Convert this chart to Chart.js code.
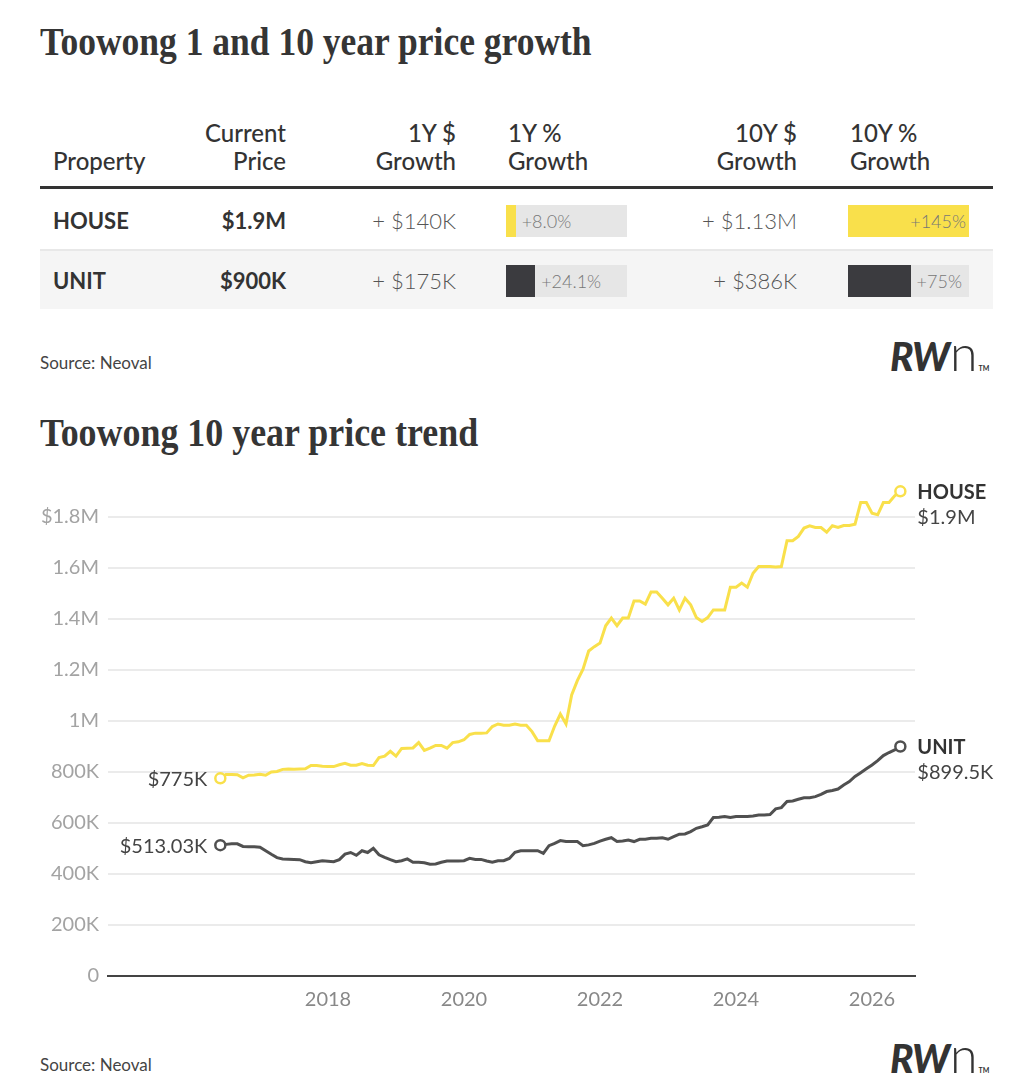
<!DOCTYPE html>
<html>
<head>
<meta charset="utf-8">
<script src="https://cdn.jsdelivr.net/npm/chart.js@4.4.1/dist/chart.umd.min.js"></script>
<style>
  body { margin: 0; background: #fff; width: 1034px; height: 1090px; position: relative; overflow: hidden; font-family: Lato, "Open Sans", sans-serif; color: #333; }
  .title { position: absolute; left: 40px; font-family: "Liberation Serif", "DejaVu Serif", serif; font-weight: bold; font-size: 40px; line-height: 40px; color: #353535; white-space: nowrap; transform-origin: 0 0; }
  .txt { position: absolute; line-height: 40px; height: 40px; white-space: nowrap; }
  .box { position: absolute; }
  #trend { position: absolute; left: 0; top: 455px; }
</style>
</head>
<body>
<div class="title" id="title1" style="top:22px">Toowong 1 and 10 year price growth</div>
<div class="title" id="title2" style="top:413px">Toowong 10 year price trend</div>
<canvas id="trend" width="1034" height="565"></canvas>
<script>
// monthly median values, in $K, Jun 2016 .. Jun 2026
var houseValues = [
  775, 790, 790, 789, 777, 787, 788, 791, 787, 800,
  802, 810, 811, 810, 811, 812, 825, 825, 822, 821,
  821, 828, 834, 826, 826, 833, 826, 825, 856, 862,
  881, 862, 892, 893, 894, 915, 884, 893, 904, 904,
  893, 915, 918, 926, 947,
  952, 952, 953, 978, 988, 983, 983, 988, 983, 983,
  958, 922, 922, 922, 980, 1027, 988, 1102, 1158, 1203,
  1274, 1291, 1305, 1373, 1403, 1373, 1403, 1403, 1470, 1470,
  1458, 1505, 1505, 1481, 1455, 1481, 1435, 1481, 1455, 1405,
  1390, 1405, 1435, 1435, 1435,
  1524, 1524, 1540, 1524, 1579, 1605, 1605, 1605, 1603, 1605,
  1706, 1706, 1723, 1756, 1765, 1758, 1758, 1740, 1765, 1758,
  1766, 1766, 1771, 1856, 1856, 1814, 1808, 1856, 1856, 1882,
  1900
];
var unitValues = [
  513.03, 516, 518, 518, 508, 507, 507, 505, 491, 477,
  464, 459, 458, 457, 456, 448, 444, 448, 452, 450,
  448, 456, 478, 484, 473, 491, 484, 501, 475, 465,
  456, 448, 452, 459, 446, 446, 444, 438, 439, 446,
  451, 451, 451, 452, 461,
  457, 457, 451, 446, 452, 452, 461, 485, 491, 491,
  491, 491, 481, 511, 520, 531, 527, 527, 527, 511,
  514, 520, 529, 536, 542, 527, 529, 533, 527, 536,
  536, 540, 540, 542, 536, 546, 556, 557, 566, 579,
  585, 592, 621, 622, 625,
  621, 625, 625, 625, 627, 631, 631, 633, 655, 660,
  684, 686, 693, 699, 699, 703, 712, 723, 727, 733,
  749, 762, 782, 797, 812, 827, 844, 864, 876, 886,
  899.5
];
var startYear = 2016;
var startMonth = 6;
var seriesNames = ['HOUSE', 'UNIT'];
var seriesColors = ['#f9e04b', '#505050'];
var xTickYears = [2018, 2020, 2022, 2024, 2026];
var yTickValues = [0, 200, 400, 600, 800, 1000, 1200, 1400, 1600, 1800];
var yTickLabels = ['0', '200K', '400K', '600K', '800K', '1M', '1.2M', '1.4M', '1.6M', '$1.8M'];

// growth table
var headerTop = ['', 'Current', '1Y $', '1Y %', '10Y $', '10Y %'];
var headerBottom = ['Property', 'Price', 'Growth', 'Growth', 'Growth', 'Growth'];
var propertyNames = ['HOUSE', 'UNIT'];
var currentPrices = ['$1.9M', '$900K'];
var growth1YDollar = ['+ $140K', '+ $175K'];
var growth1YPct = [8.0, 24.1];
var growth10YDollar = ['+ $1.13M', '+ $386K'];
var growth10YPct = [145, 75];
var pctScale1Y = 100;
var pctScale10Y = 145;

var fillColors = ['#f9e04b', '#3b3b3f'];
var colX = [53, 286, 456, 508, 797, 850];
var colAlign = ['left', 'right', 'right', 'left', 'right', 'left'];
var rowCenter = [221, 281];

function addText(text, x, cy, align, style) {
  var el = document.createElement('div');
  el.className = 'txt';
  el.textContent = text;
  el.style.top = (cy - 20) + 'px';
  if (align === 'right') {
    el.style.right = (1034 - x) + 'px';
  } else {
    el.style.left = x + 'px';
  }
  Object.assign(el.style, style || {});
  document.body.appendChild(el);
  return el;
}

function addBox(x, y, w, h, color) {
  var el = document.createElement('div');
  el.className = 'box';
  el.style.left = x + 'px';
  el.style.top = y + 'px';
  el.style.width = w + 'px';
  el.style.height = h + 'px';
  el.style.background = color;
  document.body.appendChild(el);
  return el;
}

function addBar(x, cy, pct, scale, color, label) {
  var w = 121, h = 32;
  var fw = Math.min(1, pct / scale) * w;
  addBox(x, cy - h / 2, w, h, '#e6e6e6');
  addBox(x, cy - h / 2, fw, h, color);
  var style = { fontSize: '18px', fontWeight: 300, color: '#777' };
  if (fw > w - 50) {
    addText(label, x + w - 3, cy, 'right', style);
  } else {
    addText(label, x + fw + 6, cy, 'left', style);
  }
}

function addLogo(top) {
  var el = document.createElement('div');
  el.className = 'txt';
  el.style.left = '890px';
  el.style.top = top + 'px';
  el.style.fontSize = '39px';
  el.style.color = '#333';
  el.innerHTML = '<span style="font-weight:900;font-style:italic;letter-spacing:-1px">RW</span>' +
    '<span style="font-weight:300;font-size:50px;line-height:0;margin-left:1px">n</span>' +
    '<span style="font-size:7px;font-weight:700;margin-left:1px">TM</span>';
  document.body.appendChild(el);
}

function formatPrice(v) {
  if (v >= 1000) return '$' + (v / 1000) + 'M';
  return '$' + v + 'K';
}

function fitTitle(id, width) {
  var el = document.getElementById(id);
  el.style.transform = 'scaleX(' + (width / el.offsetWidth) + ')';
}

// table header
headerTop.forEach(function (t, i) {
  if (t) addText(t, colX[i], 133, colAlign[i], { fontSize: '24px', fontWeight: 500 });
});
headerBottom.forEach(function (t, i) {
  addText(t, colX[i], 161, colAlign[i], { fontSize: '24px', fontWeight: 500 });
});
addBox(40, 186, 953, 3, '#333');
addBox(40, 249, 953, 2, '#e8e8e8');
addBox(40, 251, 953, 58, '#f5f5f5');

propertyNames.forEach(function (name, r) {
  var cy = rowCenter[r];
  addText(name, colX[0], cy, 'left', { fontSize: '22px', fontWeight: 700 });
  addText(currentPrices[r], colX[1], cy, 'right', { fontSize: '22px', fontWeight: 700 });
  addText(growth1YDollar[r], colX[2], cy, 'right', { fontSize: '22px', fontWeight: 300, color: '#555' });
  addBar(506, cy, growth1YPct[r], pctScale1Y, fillColors[r], '+' + growth1YPct[r].toFixed(1) + '%');
  addText(growth10YDollar[r], colX[4], cy, 'right', { fontSize: '22px', fontWeight: 300, color: '#555' });
  addBar(848, cy, growth10YPct[r], pctScale10Y, fillColors[r], '+' + growth10YPct[r] + '%');
});

addText('Source: Neoval', 40, 363, 'left', { fontSize: '17px', color: '#444' });
addText('Source: Neoval', 40, 1065, 'left', { fontSize: '17px', color: '#444' });
addLogo(336);
addLogo(1038);

fitTitle('title1', 552);
fitTitle('title2', 438);

var months = houseValues.map(function (v, i) {
  return startYear + (startMonth - 1 + i) / 12;
});

function toPoints(values) {
  return values.map(function (v, i) { return { x: months[i], y: v }; });
}

function endPoint(ctx) {
  var n = ctx.dataset.data.length;
  return (ctx.dataIndex === 0 || ctx.dataIndex === n - 1) ? 5 : 0;
}

var endLabels = {
  id: 'endLabels',
  afterDatasetsDraw: function (chart) {
    var ctx = chart.ctx;
    var all = [houseValues, unitValues];
    chart.data.datasets.forEach(function (ds, d) {
      var pts = chart.getDatasetMeta(d).data;
      var first = pts[0], last = pts[pts.length - 1];
      var vals = all[d];
      ctx.save();
      ctx.fillStyle = '#444';
      ctx.textBaseline = 'middle';
      ctx.font = '20px Lato';
      ctx.textAlign = 'right';
      ctx.fillText(formatPrice(vals[0]), first.x - 13, first.y + 1);
      ctx.textAlign = 'left';
      ctx.fillStyle = '#333';
      ctx.font = 'bold 20px Lato';
      ctx.fillText(seriesNames[d], last.x + 17, last.y + 1);
      ctx.fillStyle = '#444';
      ctx.font = '20px Lato';
      ctx.fillText(formatPrice(vals[vals.length - 1]), last.x + 17, last.y + 26);
      ctx.restore();
    });
  }
};

new Chart(document.getElementById('trend'), {
  type: 'line',
  data: {
    datasets: [houseValues, unitValues].map(function (vals, d) {
      return {
        label: seriesNames[d],
        data: toPoints(vals),
        borderColor: seriesColors[d],
        borderWidth: 3,
        tension: 0,
        pointRadius: endPoint,
        pointBackgroundColor: '#fff',
        pointBorderColor: seriesColors[d],
        pointBorderWidth: 2.5,
        clip: false
      };
    })
  },
  options: {
    responsive: false,
    animation: false,
    layout: { padding: { top: 16, right: 119, left: 0, bottom: 0 } },
    plugins: { legend: { display: false }, tooltip: { enabled: false } },
    scales: {
      x: {
        type: 'linear',
        min: 2014.765,
        max: 2026.632,
        afterBuildTicks: function (s) { s.ticks = xTickYears.map(function (v) { return { value: v }; }); },
        afterFit: function (s) { s.height = 44; },
        grid: { display: false },
        border: { color: '#444', width: 2 },
        ticks: {
          color: '#888',
          font: { family: 'Lato', size: 20 },
          padding: 4,
          maxRotation: 0,
          autoSkip: false,
          callback: function (v) { return String(v); }
        }
      },
      y: {
        min: 0,
        max: 1960,
        afterBuildTicks: function (s) { s.ticks = yTickValues.map(function (v) { return { value: v }; }); },
        afterFit: function (s) { s.width = 108; },
        grid: {
          drawTicks: false,
          lineWidth: 2,
          color: function (c) { return c.tick && c.tick.value === 0 ? 'rgba(0,0,0,0)' : '#ebebeb'; }
        },
        border: { display: false },
        ticks: {
          color: '#a3a3a3',
          font: { family: 'Lato', size: 20 },
          padding: 9,
          callback: function (v) { return yTickLabels[yTickValues.indexOf(v)]; }
        }
      }
    }
  },
  plugins: [endLabels]
});
</script>
</body>
</html>
